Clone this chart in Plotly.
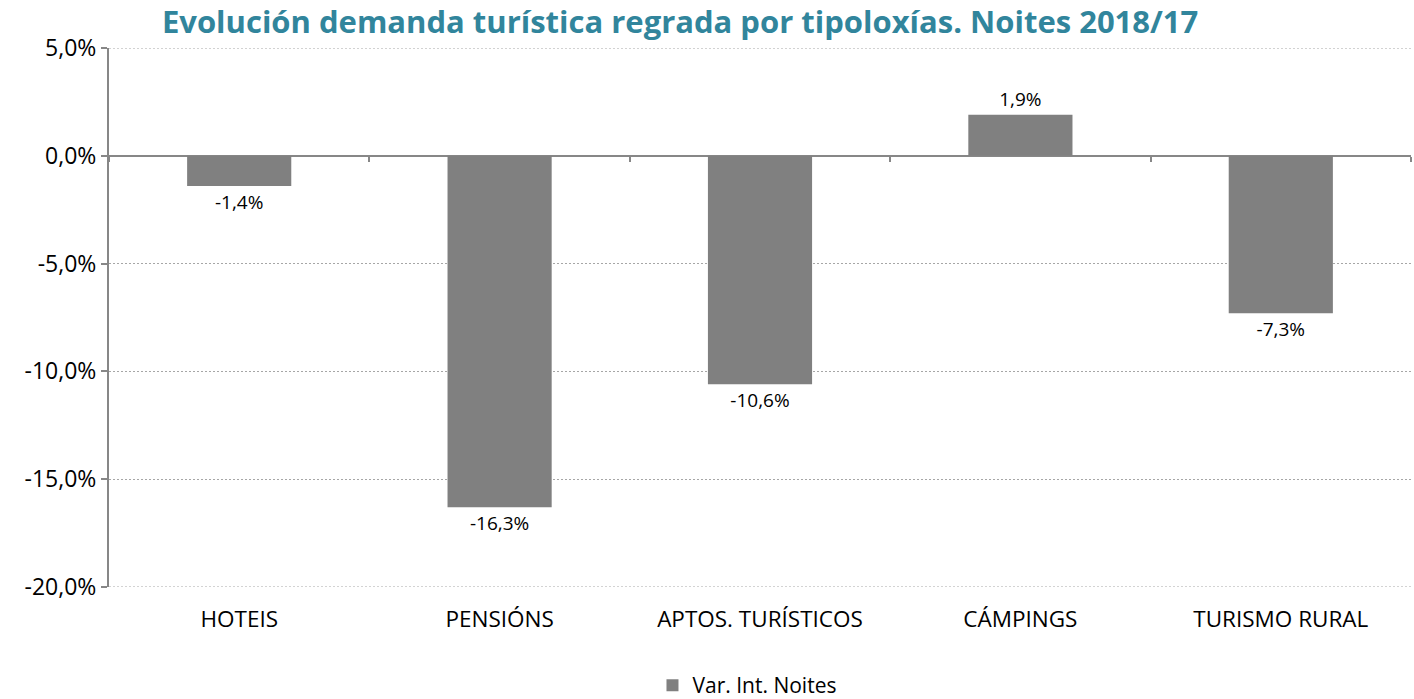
import plotly.graph_objects as go

categories = ["HOTEIS", "PENSIÓNS", "APTOS. TURÍSTICOS", "CÁMPINGS", "TURISMO RURAL"]
values = [-1.4, -16.3, -10.6, 1.9, -7.3]
series_name = "Var. Int. Noites"
title = "Evolución demanda turística regrada por tipoloxías. Noites 2018/17"
y_ticks = [5, 0, -5, -10, -15, -20]

def fmt(v):
    return f"{v:.1f}%".replace(".", ",")

labels = [fmt(v) for v in values]
y_ticktext = [fmt(v) for v in y_ticks]
FONT = "Open Sans"
GRID = "#a6a6a6"
DASH = "2px,2px"

fig = go.Figure()
fig.add_trace(go.Bar(
    x=categories, y=values, name=series_name,
    marker=dict(color="#808080", line=dict(width=0)),
    text=labels, textposition="outside", cliponaxis=False,
    textfont=dict(size=19, color="#000000", family=FONT),
    width=0.4, showlegend=True,
))
# invisible trace for zero-line category ticks
fig.add_trace(go.Scatter(x=categories, y=[None]*len(categories), xaxis="x2",
                         showlegend=False, hoverinfo="skip"))

# dotted gridlines at the range ends (plotly skips them at the edges)
for yv in (y_ticks[0], y_ticks[-1]):
    fig.add_shape(type="line", xref="paper", yref="y", x0=0, x1=1, y0=yv, y1=yv,
                  line=dict(color=GRID, width=1, dash=DASH), layer="below")

fig.update_layout(
    width=1414, height=699,
    paper_bgcolor="white", plot_bgcolor="white",
    font=dict(family=FONT, color="#000000"),
    title=dict(text=f"<b>{title}</b>", x=0.481, xanchor="center", y=0.968, yanchor="middle",
               font=dict(size=31, color="#31859C", family=FONT)),
    margin=dict(l=109, r=3, t=48, b=112, autoexpand=False),
    showlegend=True,
    legend=dict(orientation="h", x=0.49, xanchor="center", y=-0.183, yanchor="middle",
                font=dict(size=21, family=FONT), itemsizing="constant"),
    xaxis=dict(type="category", showgrid=False, showline=False, ticks="",
               tickfont=dict(size=22.5, family=FONT), zeroline=False, automargin=False,
               range=[-0.5, 4.5], ticklabelstandoff=16),
    xaxis2=dict(type="category", overlaying="x", anchor="free", position=0.8,
                showticklabels=False, ticks="outside", tickson="boundaries",
                ticklen=5, tickwidth=2, tickcolor="#878787", showline=False,
                showgrid=False, matches="x", automargin=False),
    yaxis=dict(range=[-20, 5], tickvals=y_ticks, ticktext=y_ticktext,
               showgrid=True, gridcolor=GRID, griddash=DASH, gridwidth=1,
               zeroline=True, zerolinecolor="#878787", zerolinewidth=2,
               showline=True, linecolor="#878787", linewidth=2,
               ticks="outside", ticklen=6, tickwidth=2, tickcolor="#878787",
               tickfont=dict(size=23, family=FONT), automargin=False),
)

fig.write_html("out.html", config={"displayModeBar": False},
               post_script="document.body.style.margin='0';document.body.style.overflow='hidden';")
